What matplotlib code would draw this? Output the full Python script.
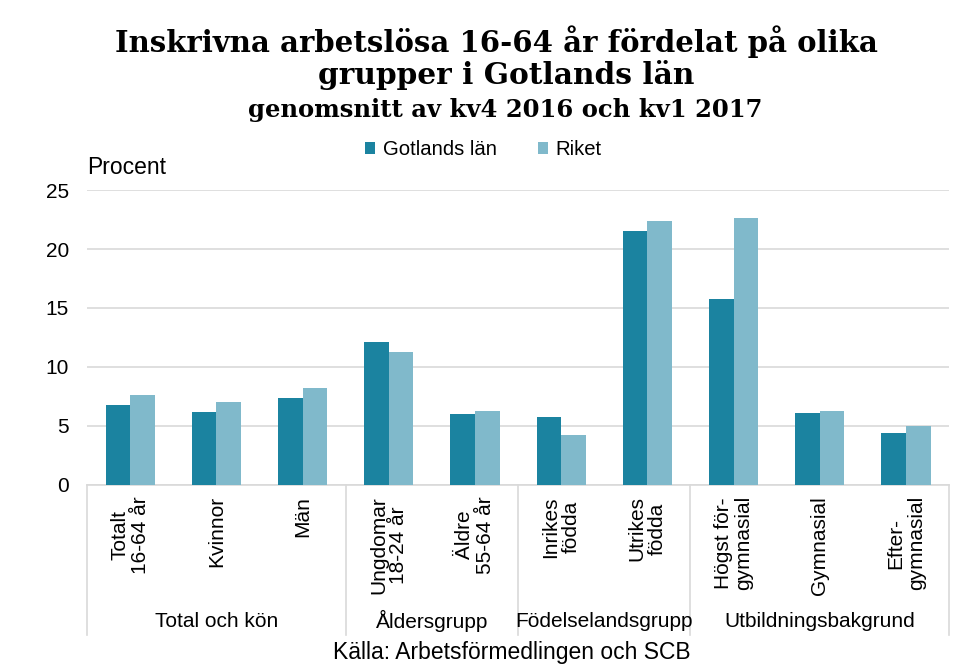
import numpy as np
import matplotlib.pyplot as plt
from matplotlib.transforms import blended_transform_factory

# Data
categories = ["Totalt\n16-64 år", "Kvinnor", "Män", "Ungdomar\n18-24 år", "Äldre\n55-64 år",
              "Inrikes\nfödda", "Utrikes\nfödda", "Högst för-\ngymnasial", "Gymnasial", "Efter-\ngymnasial"]
gotland = [6.8, 6.2, 7.4, 12.1, 6.0, 5.8, 21.5, 15.8, 6.1, 4.4]
riket = [7.6, 7.0, 8.2, 11.3, 6.3, 4.2, 22.4, 22.6, 6.3, 5.0]
groups = ["Total och kön", "Åldersgrupp", "Födelselandsgrupp", "Utbildningsbakgrund"]
group_sizes = [3, 2, 2, 3]
series_names = ["Gotlands län", "Riket"]

dark = "#1B83A0"
light = "#80B9CB"
grid_col = "#D9D9D9"

plt.rcParams['font.family'] = ['Liberation Sans', 'DejaVu Sans']

fig = plt.figure(figsize=(9.59, 6.66), dpi=100)
ax = fig.add_axes([0.0907, 0.2718, 0.899, 0.4429])

x = np.arange(len(categories))
w = 0.285
ax.bar(x - w / 2, gotland, w, color=dark, label=series_names[0], zorder=3)
ax.bar(x + w / 2, riket, w, color=light, label=series_names[1], zorder=3)

ax.set_xlim(-0.5, len(categories) - 0.5)
ax.set_ylim(0, 25)
ax.set_yticks(range(0, 26, 5))
ax.yaxis.grid(True, color=grid_col, linewidth=1.2, zorder=0)
ax.tick_params(axis='y', length=0, labelsize=15, pad=13)
ax.tick_params(axis='x', length=0, pad=8)
ax.set_xticks(x)
ax.set_xticklabels(categories, rotation=90, fontsize=15, va='top', ha='center',
                   multialignment='center', linespacing=1.1)
for s in ['top', 'right', 'left']:
    ax.spines[s].set_visible(False)
ax.spines['bottom'].set_color(grid_col)
ax.spines['bottom'].set_linewidth(1.2)

# group separators and group labels
trans = blended_transform_factory(ax.transData, ax.transAxes)
bounds = np.concatenate([[0], np.cumsum(group_sizes)]) - 0.5
for b in bounds:
    ax.plot([b, b], [0, -0.51], transform=trans, color=grid_col, linewidth=1.2, clip_on=False)
for i, g in enumerate(groups):
    mid = (bounds[i] + bounds[i + 1]) / 2
    ax.text(mid, -0.462, g, transform=trans, ha='center', va='center', fontsize=15)

ax.legend(loc='center', bbox_to_anchor=(0.504, 0.775), bbox_transform=fig.transFigure,
          ncol=2, frameon=False, fontsize=14.6, handlelength=0.5, handleheight=0.5,
          handletextpad=0.4, columnspacing=2.0)

fig.text(0.091, 0.749, "Procent", fontsize=16.5, ha='left', va='center')
fig.text(0.518, 0.937, "Inskrivna arbetslösa 16-64 år fördelat på olika", fontsize=21,
         fontweight='bold', family='DejaVu Serif', ha='center', va='center')
fig.text(0.528, 0.887, "grupper i Gotlands län", fontsize=21.3,
         fontweight='bold', family='DejaVu Serif', ha='center', va='center')
fig.text(0.527, 0.835, "genomsnitt av kv4 2016 och kv1 2017", fontsize=17.5,
         fontweight='bold', family='DejaVu Serif', ha='center', va='center')
fig.text(0.534, 0.02, "Källa: Arbetsförmedlingen och SCB", fontsize=16.5, ha='center', va='center')

fig.savefig("out.png", dpi=100)
